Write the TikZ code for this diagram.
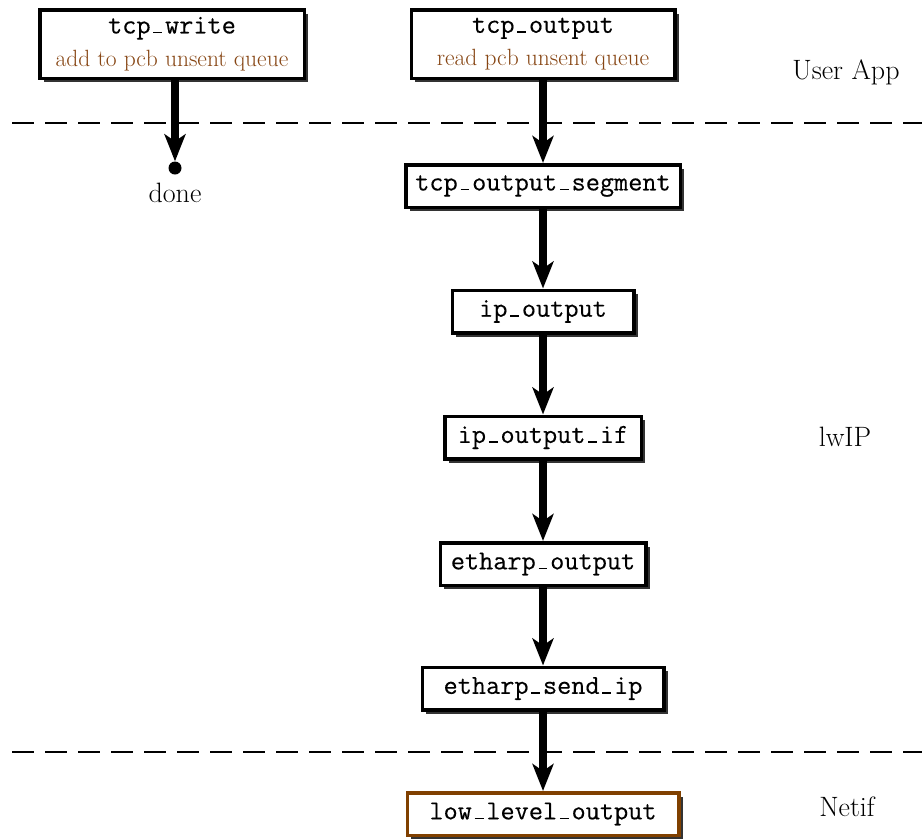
\documentclass[tikz,border=0pt]{standalone}
\usepackage{fontspec}
\setmonofont{Latin Modern Mono}[FakeBold=0.3]
\usetikzlibrary{arrows.meta,shadows}
\definecolor{subtext}{RGB}{135,70,20}
\definecolor{netifbrown}{RGB}{128,64,0}
\newcommand\subline{\fontsize{23.5}{26}\selectfont\rmfamily\color{subtext}}
% short typewriter underscore
\newcommand\us{\makebox[0.525em][c]{\rule{0.32em}{0.06em}}}
\begin{document}
\begin{tikzpicture}[x=1pt,y=-1pt,
  fn/.style={draw, line width=3.5pt, fill=white, inner xsep=0pt, inner ysep=0pt,
    align=center, font=\fontsize{27.5}{31}\selectfont\ttfamily,
    minimum height=42.5pt,
    drop shadow={shadow xshift=4pt, shadow yshift=-4pt, fill=black!80, opacity=1}},
  flow/.style={line width=7.5pt, -{Stealth[length=27pt,width=21pt,inset=7pt]}},
  layer/.style={line width=2pt, dash pattern=on 22pt off 11pt},
  layername/.style={font=\fontsize{28}{32}\selectfont\rmfamily}]
\useasboundingbox (0,0) rectangle (922,839);

% layer boundaries
\coordinate (l1a) at (12,123);
\coordinate (l1b) at (922,123);
\coordinate (l2a) at (12,752);
\coordinate (l2b) at (922,752);
\draw[layer] (l1a) -- (l1b);
\draw[layer] (l2a) -- (l2b);

% layer names
\node[layername] (app) at (846,72) {User App};
\node[layername] (lwip) at (845,437) {lwIP};
\node[layername] (netif) at (847,807) {Netif};

% call chain
\node[fn, minimum width=264.5pt, minimum height=68.5pt] (tcpwrite) at (172,44)
  {tcp\us write\\[2pt]{\subline add to pcb unsent queue}};
\node[fn, minimum width=263.5pt, minimum height=68.5pt] (tcpout) at (543,44)
  {tcp\us output\\[2pt]{\subline read pcb unsent queue}};
\node[fn, minimum width=274.5pt] (seg) at (543,186) {tcp\us output\us segment};
\node[fn, minimum width=181.5pt] (ipout) at (543,311.5) {ip\us output};
\node[fn, minimum width=196.5pt] (ipoutif) at (543,437.5) {ip\us output\us if};
\node[fn, minimum width=205.5pt] (ethout) at (543,564) {etharp\us output};
\node[fn, minimum width=241.5pt] (sendip) at (543,688.5) {etharp\us send\us ip};
\node[fn, draw=netifbrown, minimum width=271.5pt] (lowout) at (543,814) {low\us level\us output};

% end of the tcp_write path
\node[circle, fill=black, inner sep=0pt, minimum size=13pt] (dot) at (175,168) {};
\node[layername] (done) at (175,193) {done};

\draw[flow] (tcpwrite.south -| dot.center) -- (dot.north);
\draw[flow] (tcpout) -- (seg);
\draw[flow] (seg) -- (ipout);
\draw[flow] (ipout) -- (ipoutif);
\draw[flow] (ipoutif) -- (ethout);
\draw[flow] (ethout) -- (sendip);
\draw[flow] (sendip) -- (lowout);
\end{tikzpicture}
\end{document}
